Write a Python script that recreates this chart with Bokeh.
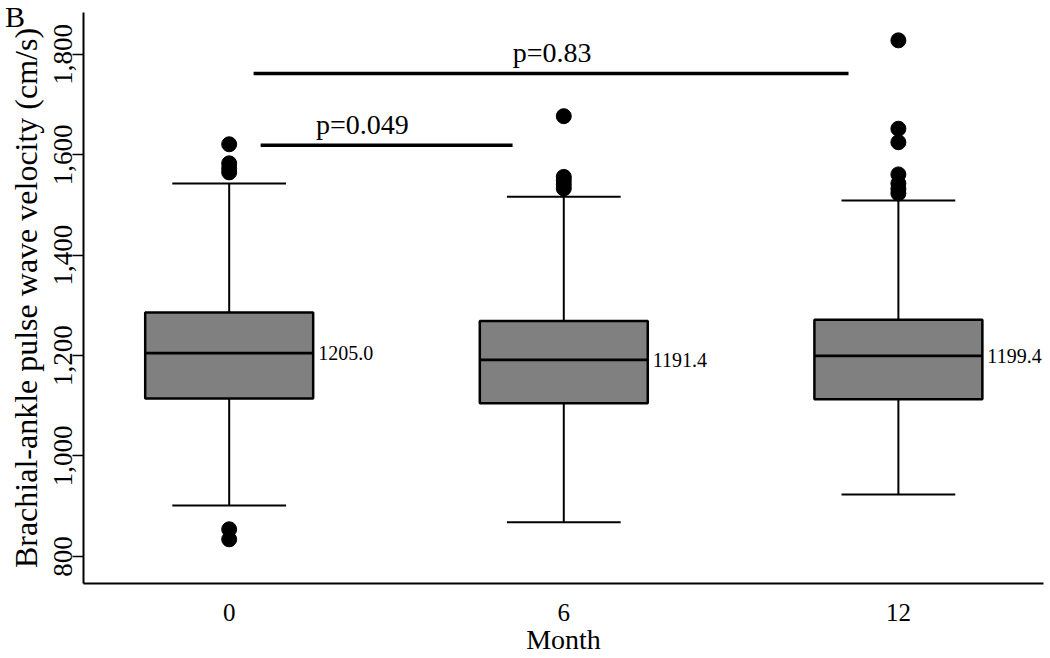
from bokeh.plotting import figure
from bokeh.models import (ColumnDataSource, Range1d, FixedTicker, NumeralTickFormatter, Label, Div)
from bokeh.core.properties import value
from bokeh.embed import file_html
from bokeh.resources import INLINE

# ---- data ----
months = ["0", "6", "12"]
q1 = [1114.7, 1105.0, 1113.0]
medians = [1205.0, 1191.4, 1199.4]
q3 = [1286.0, 1269.0, 1271.5]
whisker_low = [901.6, 868.0, 923.5]
whisker_high = [1543.0, 1516.5, 1509.0]
median_labels = ["1205.0", "1191.4", "1199.4"]

outlier_month = ["0", "0", "0", "0", "0", "0",
                 "6", "6", "6", "6", "6",
                 "12", "12", "12", "12", "12", "12", "12"]
outlier_value = [1621, 1583, 1573, 1565, 854, 834,
                 1677, 1556, 1549, 1541, 1533,
                 1828, 1652, 1625, 1561, 1543, 1532, 1523]

# significance brackets (month-index units) and their p-value labels
bracket_start = [0.094, 0.073]
bracket_end = [0.847, 1.851]
bracket_y = [1619, 1762]
bracket_text = ["p=0.049", "p=0.83"]
bracket_text_x = [0.398, 0.965]

y_ticks = [800, 1000, 1200, 1400, 1600, 1800]

FONT = "Liberation Serif"

idx = {m: i for i, m in enumerate(months)}
xs = [idx[m] for m in months]
box_half = 0.251
cap_half = 0.17

src = ColumnDataSource(dict(
    x=xs, left=[x - box_half for x in xs], right=[x + box_half for x in xs],
    cl=[x - cap_half for x in xs], cr=[x + cap_half for x in xs],
    q1=q1, q3=q3, med=medians, lo=whisker_low, hi=whisker_high,
))
out_src = ColumnDataSource(dict(x=[idx[m] for m in outlier_month], y=outlier_value))
br_src = ColumnDataSource(dict(x0=bracket_start, x1=bracket_end, y=bracket_y,
                               tx=bracket_text_x, t=bracket_text))

p = figure(width=1050, height=658, output_backend="svg", toolbar_location=None,
           x_range=Range1d(-0.4354, 2.4337), y_range=Range1d(746, 1883.5),
           min_border_left=83, min_border_right=7, min_border_top=12, min_border_bottom=75)
p.outline_line_color = None
p.grid.grid_line_color = None
p.background_fill_color = "white"
p.border_fill_color = "white"

# whiskers and caps
p.segment(x0="x", y0="q3", x1="x", y1="hi", source=src, line_color="black", line_width=2)
p.segment(x0="x", y0="q1", x1="x", y1="lo", source=src, line_color="black", line_width=2)
p.segment(x0="cl", y0="hi", x1="cr", y1="hi", source=src, line_color="black", line_width=2)
p.segment(x0="cl", y0="lo", x1="cr", y1="lo", source=src, line_color="black", line_width=2)
# boxes
p.quad(left="left", right="right", bottom="q1", top="q3", source=src,
       fill_color="#808080", line_color="black", line_width=2.5)
p.segment(x0="left", y0="med", x1="right", y1="med", source=src, line_color="black", line_width=2.7)
# median labels
for i, m in enumerate(months):
    p.add_layout(Label(x=idx[m] + box_half, y=medians[i], x_offset=5, text=median_labels[i],
                       text_font=FONT, text_font_size="20px", text_baseline="middle",
                       text_align="left", text_color="black"))
# outliers
p.scatter(x="x", y="y", source=out_src, size=15, color="black")
# significance brackets
p.segment(x0="x0", y0="y", x1="x1", y1="y", source=br_src, line_color="black", line_width=3.5)
p.text(x="tx", y="y", text="t", source=br_src, y_offset=-5,
       text_font=value(FONT), text_font_size="28px", text_baseline="bottom",
       text_align="center", text_color="black")

# x axis
xa = p.xaxis[0]
xa.ticker = FixedTicker(ticks=xs)
xa.major_label_overrides = {i: m for i, m in enumerate(months)}
xa.major_tick_out = 0
xa.major_tick_in = 0
xa.major_tick_line_color = None
xa.minor_tick_line_color = None
xa.axis_line_width = 2
xa.axis_line_color = "black"
xa.major_label_text_font = FONT
xa.major_label_text_font_size = "25px"
xa.major_label_text_color = "black"
xa.major_label_standoff = 20
xa.axis_label = "Month"
xa.axis_label_text_font = FONT
xa.axis_label_text_font_size = "28px"
xa.axis_label_text_font_style = "normal"
xa.axis_label_text_color = "black"
xa.axis_label_standoff = 0

# y axis
ya = p.yaxis[0]
ya.ticker = FixedTicker(ticks=y_ticks)
ya.formatter = NumeralTickFormatter(format="0,0")
ya.major_label_orientation = "vertical"
ya.major_tick_out = 11
ya.major_tick_in = 0
ya.major_tick_line_width = 1.5
ya.minor_tick_line_color = None
ya.axis_line_width = 2
ya.axis_line_color = "black"
ya.major_label_text_font = FONT
ya.major_label_text_font_size = "27px"
ya.major_label_text_color = "black"
ya.major_label_standoff = 0
ya.axis_label = "Brachial-ankle pulse wave velocity (cm/s)"
ya.axis_label_text_font = FONT
ya.axis_label_text_font_size = "32px"
ya.axis_label_text_font_style = "normal"
ya.axis_label_text_color = "black"
ya.axis_label_standoff = 8

# panel letter, laid over the top-left corner of the page
panel_letter = Div(text="B", styles={"position": "absolute", "left": "0px", "top": "-3px",
                                     "font-family": FONT, "font-size": "30px",
                                     "line-height": "1", "color": "black"})

open("out.html", "w").write(file_html([p, panel_letter], INLINE))
